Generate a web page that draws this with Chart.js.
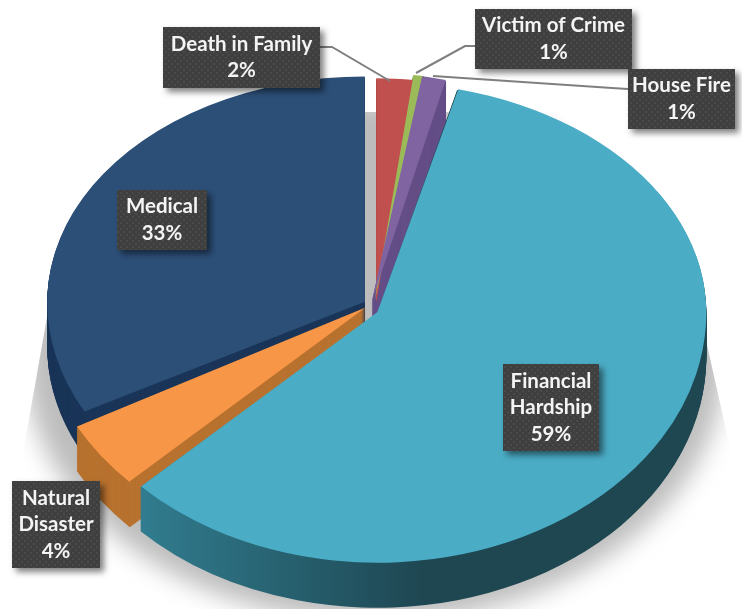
<!DOCTYPE html>
<html>
<head>
<meta charset="utf-8">
<title>Pie chart</title>
<script src="https://cdn.jsdelivr.net/npm/chart.js@4"></script>
<style>
	html, body { margin: 0; padding: 0; background: #fff; }
	canvas { display: block; }
</style>
</head>
<body>
<canvas id="piechart" width="742" height="609"></canvas>
<script>
var categories = ["Death in Family", "Victim of Crime", "House Fire", "Financial Hardship", "Natural Disaster", "Medical"];
var shares = [2.0, 0.6, 1.3, 58.9, 4.4, 32.8];

var topColors = ['#c0504d', '#9bbb59', '#8064a2', '#4bacc6', '#f79646', '#2c4f78'];
var wallColors = ['#8c3a38', '#71883f', '#654f87', '#1e4752', '#b8722f', '#1a3558'];
var explode = [6, 14, 14, 28, 26, 28];
var scaleX = [0.98, 0.98, 0.98, 1.038, 1.04, 1.022];
var backTilt = [0.723, 0.73, 0.73, 0.726, 0.75, 0.725];
var frontTilt = [0.78, 0.78, 0.78, 0.79, 0.80, 0.75];
var shiftX = [5, 3, 0, 0, 0, 0];
var shiftY = [0, 0, 0, 5, 0, 0];
var wallDepth = 45;
var wallOrder = [5, 0, 1, 2, 4, 3];

var boxes = [
	{x: 163, y: 27, w: 157, h: 61, line: [[320, 47], [332, 47], [390, 81]]},
	{x: 475, y: 9, w: 157, h: 60, line: [[475, 46], [465, 46], [416, 73]]},
	{x: 628, y: 69, w: 107, h: 60, line: [[628, 89], [612, 88], [433, 76]]},
	{x: 503, y: 364, w: 96, h: 87},
	{x: 12, y: 481, w: 88, h: 87},
	{x: 117, y: 190, w: 90, h: 60}
];

// chart.js moves an exploded arc by offset/4 and grows it by offset/4 * fix
function sliceGeom(arc) {
	var off = (arc.options.offset || 0) / 4;
	var mid = (arc.startAngle + arc.endAngle) / 2;
	var circ = arc.endAngle - arc.startAngle;
	var fix = 1 - Math.sin(Math.min(Math.PI, circ));
	return {
		x: arc.x + Math.cos(mid) * off,
		y: arc.y + Math.sin(mid) * off,
		r: arc.outerRadius + off * fix
	};
}

// flat tilt is not enough: the back half is squashed more than the front
function withTilt(ctx, chart, arc, i, dy, fn) {
	var cx = chart.width / 2, cy = chart.height / 2;
	var g = sliceGeom(arc);
	var apexX = cx + (g.x - cx) * scaleX[i] + shiftX[i];
	var apexY = cy + (g.y - cy) * frontTilt[i] + shiftY[i] + dy;
	[backTilt[i], frontTilt[i]].forEach(function (k, half) {
		ctx.save();
		ctx.translate(apexX, apexY);
		ctx.scale(scaleX[i], k);
		ctx.translate(-g.x, -g.y);
		ctx.beginPath();
		if (half === 0) ctx.rect(g.x - 1000, g.y - 1000, 2000, 1000.5);
		else ctx.rect(g.x - 1000, g.y - 0.5, 2000, 1000);
		ctx.clip();
		fn(g);
		ctx.restore();
	});
}

function dotPattern(ctx) {
	var c = document.createElement('canvas');
	c.width = 6; c.height = 6;
	var p = c.getContext('2d');
	p.fillStyle = '#3f3f3f';
	p.fillRect(0, 0, 6, 6);
	p.fillStyle = '#4a4a4a';
	p.fillRect(0, 0, 2, 2);
	p.fillRect(3, 3, 2, 2);
	return ctx.createPattern(c, 'repeat');
}

function wrapLines(ctx, text, maxWidth) {
	var words = text.split(' '), lines = [], cur = '';
	words.forEach(function (w) {
		var t = cur ? cur + ' ' + w : w;
		if (cur && ctx.measureText(t).width > maxWidth) {
			lines.push(cur);
			cur = w;
		} else {
			cur = t;
		}
	});
	lines.push(cur);
	return lines;
}

var pie3d = {
	id: 'pie3d',
	beforeDatasetsDraw: function (chart) {
		var ctx = chart.ctx, arcs = chart.getDatasetMeta(0).data;

		// soft floor shadow behind the pie
		ctx.save();
		ctx.beginPath();
		ctx.moveTo(50, 300);
		ctx.lineTo(20, 470);
		ctx.lineTo(20, 609);
		ctx.lineTo(735, 609);
		ctx.lineTo(735, 470);
		ctx.lineTo(697, 300);
		ctx.lineTo(560, 112);
		ctx.lineTo(200, 112);
		ctx.closePath();
		ctx.clip();
		ctx.filter = 'blur(12px)';
		ctx.fillStyle = '#bdbdbd';
		ctx.beginPath();
		ctx.ellipse(375, 360, 350, 262, 0, 0, Math.PI * 2);
		ctx.fill();
		ctx.restore();

		// side walls, back to front
		wallOrder.forEach(function (i) {
			var arc = arcs[i], fill = wallColors[i];
			if (i === 3) {
				fill = ctx.createLinearGradient(145, 0, 420, 0);
				fill.addColorStop(0, '#317d90');
				fill.addColorStop(1, '#1e4752');
			}
			for (var d = wallDepth; d > 0; d--) {
				withTilt(ctx, chart, arc, i, d, function (g) {
					ctx.fillStyle = fill;
					ctx.beginPath();
					ctx.moveTo(g.x, g.y);
					ctx.arc(g.x, g.y, g.r, arc.startAngle, arc.endAngle);
					ctx.closePath();
					ctx.fill();
				});
			}
		});

		// top faces go through the library's own arc elements
		arcs.forEach(function (arc, i) {
			withTilt(ctx, chart, arc, i, 0, function () {
				arc.draw(ctx);
			});
		});
		return false;
	},
	afterDraw: function (chart) {
		var ctx = chart.ctx, pattern = dotPattern(ctx);

		ctx.strokeStyle = '#7f7f7f';
		ctx.lineWidth = 2;
		boxes.forEach(function (b) {
			if (!b.line) return;
			ctx.beginPath();
			b.line.forEach(function (p, k) {
				if (k === 0) ctx.moveTo(p[0], p[1]);
				else ctx.lineTo(p[0], p[1]);
			});
			ctx.stroke();
		});

		boxes.forEach(function (b, i) {
			ctx.save();
			ctx.shadowColor = 'rgba(0,0,0,0.5)';
			ctx.shadowBlur = 6;
			ctx.shadowOffsetX = 4;
			ctx.shadowOffsetY = 4;
			ctx.fillStyle = pattern;
			ctx.fillRect(b.x, b.y, b.w, b.h);
			ctx.restore();

			ctx.save();
			ctx.font = 'bold 20.5px Lato';
			ctx.fillStyle = '#f4f4f4';
			ctx.textAlign = 'center';
			ctx.textBaseline = 'middle';
			var lines = wrapLines(ctx, categories[i], b.w - 6);
			lines.push(Math.round(shares[i]) + '%');
			var step = 26.5, y0 = b.y + b.h / 2 - step * (lines.length - 1) / 2;
			lines.forEach(function (t, k) {
				ctx.fillText(t, b.x + b.w / 2, y0 + k * step);
			});
			ctx.restore();
		});
	}
};

var ctx = document.getElementById("piechart");
var piechart = new Chart(ctx, {
	type: 'pie',
	data: {
		labels: categories,
		datasets: [{
			data: shares,
			backgroundColor: topColors,
			borderWidth: 0,
			offset: explode
		}]
	},
	options: {
		responsive: false,
		animation: false,
		radius: 310,
		layout: { padding: 0 },
		plugins: {
			legend: { display: false },
			tooltip: { enabled: false }
		}
	},
	plugins: [pie3d]
});
</script>
</body>
</html>
